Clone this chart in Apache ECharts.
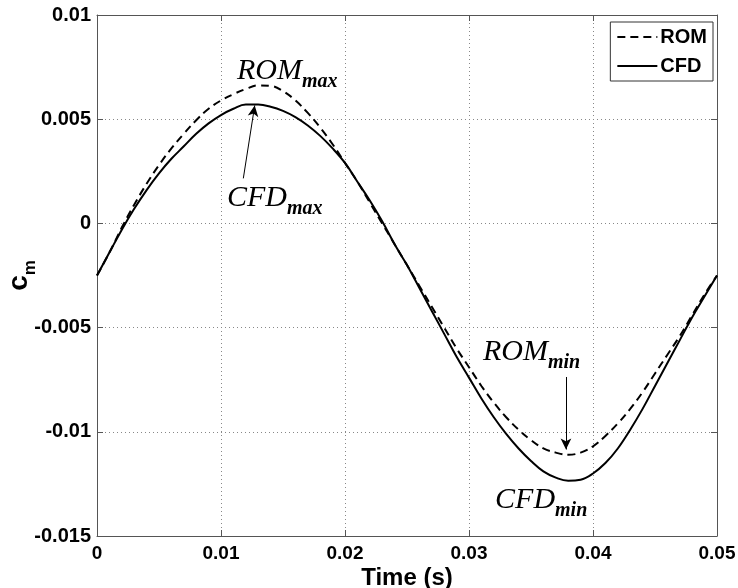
<!DOCTYPE html>
<html>
<head>
<meta charset="utf-8">
<script src="https://cdn.jsdelivr.net/npm/echarts@6/dist/echarts.min.js"></script>
<style>html,body{margin:0;padding:0;background:#fff;}#c{width:738px;height:588px;}</style>
</head>
<body>
<div id="c"></div>
<script>
var time = [0,0.001,0.002,0.003,0.004,0.005,0.006,0.007,0.008,0.009,0.010,0.011,0.012,0.013,0.014,0.015,0.016,0.017,0.018,0.019,0.020,0.021,0.022,0.023,0.024,0.025,0.026,0.027,0.028,0.029,0.030,0.031,0.032,0.033,0.034,0.035,0.036,0.037,0.038,0.039,0.040,0.041,0.042,0.043,0.044,0.045,0.046,0.047,0.048,0.049,0.050];
var cfd = [-0.0025,-0.0014,-0.0003,0.0007,0.0016,0.0024,0.0031,0.0037,0.0043,0.0048,0.0052,0.0055,0.0057,0.0057,0.0056,0.0054,0.0051,0.0047,0.0042,0.0036,0.0029,0.0020,0.0011,0.0001,-0.0010,-0.0020,-0.0031,-0.0042,-0.0053,-0.0064,-0.0074,-0.0084,-0.0093,-0.0101,-0.0108,-0.0114,-0.0119,-0.0122,-0.01235,-0.0123,-0.0120,-0.0115,-0.0108,-0.0099,-0.0089,-0.0078,-0.0067,-0.0056,-0.0045,-0.0035,-0.0025];
var rom = [-0.0025,-0.0014,-0.0002,0.0009,0.0019,0.0028,0.0036,0.0043,0.00495,0.0055,0.0059,0.0062,0.00645,0.00662,0.0066,0.00635,0.0059,0.0053,0.0046,0.0038,0.0029,0.0020,0.0010,0.0000,-0.0010,-0.0020,-0.0030,-0.0040,-0.0050,-0.0060,-0.0069,-0.0078,-0.0086,-0.0093,-0.0099,-0.0104,-0.0108,-0.0110,-0.0111,-0.0110,-0.0107,-0.0102,-0.0096,-0.0089,-0.0081,-0.0072,-0.0063,-0.0054,-0.0044,-0.0034,-0.0025];
var xTicks = [0, 0.01, 0.02, 0.03, 0.04, 0.05];
var yTicks = [-0.015, -0.01, -0.005, 0, 0.005, 0.01];
var seriesNames = ['ROM', 'CFD'];
// annotation labels: [name, subscript, t, value]
var annoLabels = [['ROM','max',0.01129,0.00731],['CFD','max',0.01048,0.00122],['ROM','min',0.03113,-0.00617],['CFD','min',0.0321,-0.01327]];
// annotation arrows: [tailT, tailV, tipT, tipV]
var annoArrows = [[0.0118,0.00216,0.01272,0.00566],[0.03782,-0.00737,0.03782,-0.01085]];

var fmt = function(v){ return String(parseFloat(v.toFixed(4))); };
var axisCol = '#555';
var font = 'Liberation Sans, Arial, sans-serif';
var serif = 'Liberation Serif, Times New Roman, serif';

function pairs(vals){ return time.map(function(t,i){ return [t, vals[i]]; }); }

var chart = echarts.init(document.getElementById('c'), null, {renderer:'canvas'});
var mpData = annoLabels.map(function(a){
  return { coord:[a[2], a[3]], symbolSize:0,
    label:{ show:true, position:[0,0], align:'left', verticalAlign:'middle',
      formatter: '{a|' + a[0] + '}{b|' + a[1] + '}',
      rich:{ a:{fontFamily:serif, fontStyle:'italic', fontSize:30, color:'#000', lineHeight:30, verticalAlign:'bottom'},
             b:{fontFamily:serif, fontStyle:'italic', fontWeight:'bold', fontSize:20, color:'#000', verticalAlign:'bottom', padding:[0,0,-6,0]} } } };
});
var mlData = annoArrows.map(function(a){ return [{coord:[a[0],a[1]]},{coord:[a[2],a[3]]}]; });

var option = {
  animation:false,
  backgroundColor:'#fff',
  grid:{left:97, right:21, top:15, bottom:52, containLabel:false, outerBoundsMode:'none'},
  legend:{
    data:[{name:'ROM'},{name:'CFD'}],
    orient:'vertical', right:25, top:22,
    backgroundColor:'#fff', borderColor:'#333', borderWidth:1, padding:[5,6,5,6],
    itemWidth:40, itemHeight:14, itemGap:9,
    itemStyle:{opacity:0},
    textStyle:{fontFamily:font, fontWeight:'bold', fontSize:20, color:'#000', padding:[0,0,0,-2]}
  },
  xAxis:[{
    type:'value', min:0, max:0.05, interval:0.01,
    name:'Time (s)', nameLocation:'middle', nameGap:30, nameMoveOverlap:false,
    nameTextStyle:{fontFamily:font, fontWeight:'bold', fontSize:24, color:'#000'},
    axisLine:{show:true, onZero:false, lineStyle:{color:axisCol, width:1}},
    axisTick:{show:true, inside:true, length:6, lineStyle:{color:axisCol}},
    axisLabel:{margin:8, fontFamily:font, fontWeight:'bold', fontSize:19, color:'#000', formatter:fmt},
    splitLine:{show:true, lineStyle:{color:'#888', type:[1,3], width:1}}
  },{
    type:'value', position:'top', min:0, max:0.05, interval:0.01,
    axisLine:{show:true, onZero:false, lineStyle:{color:axisCol, width:1}},
    axisTick:{show:true, inside:true, length:6, lineStyle:{color:axisCol}},
    axisLabel:{show:false}, splitLine:{show:false}
  }],
  yAxis:[{
    type:'value', min:-0.015, max:0.01, interval:0.005,
    name:'{c|c}{m|m}', nameLocation:'middle', nameGap:64, nameRotate:90, nameMoveOverlap:false,
    nameTextStyle:{rich:{c:{fontFamily:font, fontWeight:'bold', fontSize:28, color:'#000'}, m:{fontFamily:font, fontWeight:'bold', fontSize:17, color:'#000', verticalAlign:'bottom', padding:[0,0,-6,0]}}},
    axisLine:{show:true, onZero:false, lineStyle:{color:axisCol, width:1}},
    axisTick:{show:true, inside:true, length:6, lineStyle:{color:axisCol}},
    axisLabel:{margin:6, fontFamily:font, fontWeight:'bold', fontSize:20, color:'#000', formatter:fmt},
    splitLine:{show:true, lineStyle:{color:'#888', type:[1,3], width:1}}
  },{
    type:'value', position:'right', min:-0.015, max:0.01, interval:0.005,
    axisLine:{show:true, onZero:false, lineStyle:{color:axisCol, width:1}},
    axisTick:{show:true, inside:true, length:6, lineStyle:{color:axisCol}},
    axisLabel:{show:false}, splitLine:{show:false}
  }],
  series:[{
    name:seriesNames[0], type:'line', data:pairs(rom), smooth:0.4, symbol:'none', showSymbol:false,
    lineStyle:{color:'#000', width:2, type:[8,5]}, itemStyle:{color:'#000'}
  },{
    name:seriesNames[1], type:'line', data:pairs(cfd), smooth:0.4, symbol:'none', showSymbol:false,
    lineStyle:{color:'#000', width:2, type:'solid'}, itemStyle:{color:'#000'},
    markPoint:{silent:true, symbol:'circle', symbolSize:0, data:mpData},
    markLine:{silent:true, symbol:['none','arrow'], symbolSize:[8,11], label:{show:false},
      lineStyle:{color:'#000', width:1, type:'solid'}, data:mlData}
  }]
};
chart.setOption(option);
</script>
</body>
</html>
